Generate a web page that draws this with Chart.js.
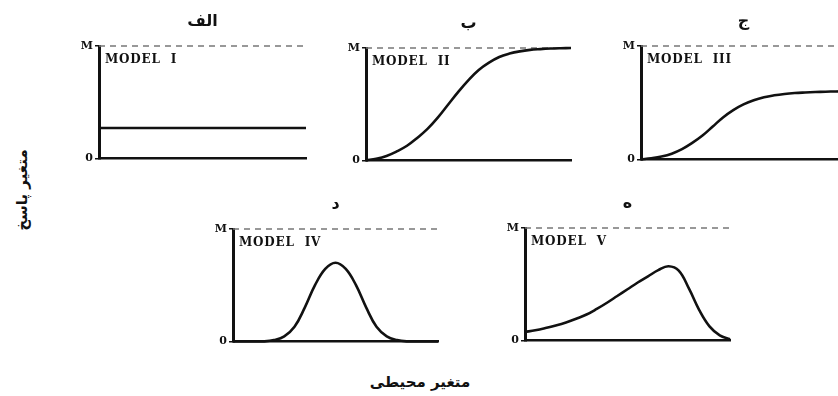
<!DOCTYPE html>
<html><head><meta charset="utf-8">
<script src="https://cdn.jsdelivr.net/npm/chart.js@4/dist/chart.umd.min.js"></script>
<style>
html,body{margin:0;padding:0;background:#fff;width:838px;height:396px;overflow:hidden;position:relative}
canvas{position:absolute}
.lbl{position:absolute;font-family:"DejaVu Sans",sans-serif;font-weight:bold;color:#111;white-space:nowrap;font-size:15px;line-height:1}
#ytitle{left:22px;top:190px;transform:translate(-50%,-50%) rotate(-90deg)}
#xtitle{left:420px;top:382px;transform:translate(-50%,-50%)}
</style></head><body>
<div class="lbl" id="ytitle" dir="rtl">متغیر پاسخ</div>
<div class="lbl" id="xtitle" dir="rtl">متغیر محیطی</div>
<canvas id="c1"></canvas><canvas id="c2"></canvas><canvas id="c3"></canvas><canvas id="c4"></canvas><canvas id="c5"></canvas>
<script>
// environmental gradient positions (percent of axis)
const envSteps = [0,5,10,15,20,25,30,35,40,45,50,55,60,65,70,75,80,85,90,95,100];
const panelTitles = ['الف','ب','ج','د','ه'];
const modelNames = ['MODEL  I','MODEL  II','MODEL  III','MODEL  IV','MODEL  V'];
const yTickLabels = ['0','M'];
const maxLine = [1,1];
// response values (fraction of M)
const modelI   = [0.27,0.27,0.27,0.27,0.27,0.27,0.27,0.27,0.27,0.27,0.27,0.27,0.27,0.27,0.27,0.27,0.27,0.27,0.27,0.27,0.27];
const modelII  = [0.0,0.015,0.04,0.08,0.13,0.20,0.28,0.38,0.495,0.61,0.715,0.805,0.87,0.92,0.95,0.97,0.983,0.99,0.995,0.998,1.0];
const modelIII = [0.0,0.01,0.025,0.05,0.09,0.145,0.21,0.29,0.37,0.435,0.485,0.522,0.548,0.565,0.577,0.585,0.59,0.594,0.597,0.599,0.60];
const modelIV  = [0,0,0,0,0.012,0.045,0.13,0.30,0.50,0.645,0.70,0.645,0.50,0.30,0.13,0.045,0.012,0,0,0,0];
const modelV   = [0.075,0.09,0.11,0.133,0.16,0.193,0.23,0.28,0.335,0.395,0.455,0.515,0.57,0.625,0.66,0.62,0.46,0.27,0.125,0.045,0.01];
const seriesList = [modelI, modelII, modelIII, modelIV, modelV];

const panels = [
  {id:'c1', ax:99,  top:46,  bottom:159, right:306},
  {id:'c2', ax:366, top:48,  bottom:161, right:571},
  {id:'c3', ax:641, top:46,  bottom:160, right:846},
  {id:'c4', ax:233, top:229, bottom:342, right:438},
  {id:'c5', ax:525, top:228, bottom:341, right:730}
];

const labelPlugin = {
  id:'panelText',
  afterDraw(chart, args, opts){
    const {ctx, chartArea:a} = chart;
    ctx.save();
    ctx.fillStyle = '#111';
    ctx.font = 'bold 16px "DejaVu Sans"';
    ctx.textAlign = 'center'; ctx.textBaseline = 'middle';
    ctx.direction = 'rtl';
    ctx.fillText(opts.title, (a.left + a.right) / 2, a.top - 24);
    ctx.direction = 'ltr';
    ctx.font = 'bold 12px "DejaVu Serif"';
    ctx.letterSpacing = '0.8px';
    ctx.textAlign = 'left'; ctx.textBaseline = 'alphabetic';
    ctx.fillText(opts.model, a.left + 6, a.top + 17);
    ctx.letterSpacing = '0px';
    ctx.restore();
  }
};

function makeChart(p, values, title, model){
  const cv = document.getElementById(p.id);
  const PADL = 40, PADT = 40, PADR = 6, PADB = 8;
  const W = p.right - p.ax + PADL + PADR, H = p.bottom - p.top + PADT + PADB;
  cv.width = W; cv.height = H;
  cv.style.left = (p.ax - PADL) + 'px'; cv.style.top = (p.top - PADT) + 'px';
  new Chart(cv, {
    type:'line',
    data:{datasets:[
      {data: envSteps.map((x,i)=>({x, y:values[i]})), borderColor:'#111', borderWidth:2.6,
       pointRadius:0, tension:0.4, fill:false, clip:false},
      {data: [{x:envSteps[0], y:maxLine[0]}, {x:envSteps[envSteps.length-1], y:maxLine[1]}],
       borderColor:'#777', borderWidth:1.5, borderDash:[6,5], pointRadius:0, fill:false, clip:false}
    ]},
    options:{
      responsive:false, animation:false, devicePixelRatio:1,
      layout:{autoPadding:false, padding:{left:0, top:PADT, right:PADR, bottom:PADB}},
      plugins:{legend:{display:false}, tooltip:{enabled:false}, panelText:{title, model}},
      scales:{
        x:{type:'linear', min:0, max:100, ticks:{display:false}, grid:{display:false},
           border:{display:true, color:'#111', width:2.5}, afterFit(s){ s.height = 0; }},
        y:{min:0, max:1, afterFit(s){ s.width = PADL; },
           afterBuildTicks(s){ s.ticks = [{value:0},{value:1}]; },
           ticks:{callback:(v)=> v === 1 ? yTickLabels[1] : yTickLabels[0],
                  font:{family:'DejaVu Serif', weight:'bold', size:11}, color:'#111', padding:2},
           grid:{drawOnChartArea:false, drawTicks:true, tickLength:4, color:'#111', lineWidth:1.5},
           border:{display:true, color:'#111', width:3}}
      }
    },
    plugins:[labelPlugin]
  });
}

panels.forEach((p, i) => makeChart(p, seriesList[i], panelTitles[i], modelNames[i]));
</script>
</body></html>
